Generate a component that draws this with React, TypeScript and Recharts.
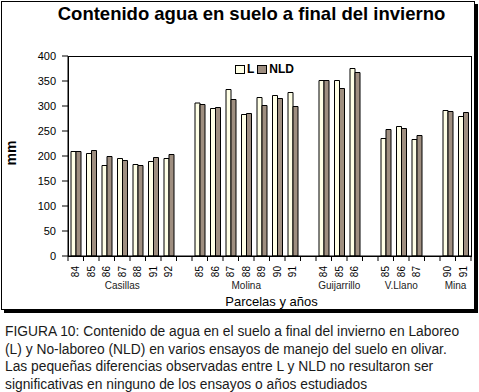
import React from 'react';
import { BarChart, Bar, XAxis, YAxis, Legend } from 'recharts';

const groups = ['Casillas', 'Molina', 'Guijarrillo', 'V.Llano', 'Mina'];
const years = [
  ['84', '85', '86', '87', '88', '91', '92'],
  ['85', '86', '87', '88', '89', '90', '91'],
  ['84', '85', '86'],
  ['85', '86', '87'],
  ['90', '91'],
];
// L = laboreo, NLD = no-laboreo (mm)
const laboreo = [
  [209, 205, 181, 195, 183, 189, 195],
  [306, 295, 333, 283, 317, 321, 327],
  [351, 351, 375],
  [235, 259, 233],
  [291, 279],
];
const noLaboreo = [
  [209, 211, 199, 191, 181, 197, 203],
  [303, 297, 313, 285, 301, 315, 299],
  [351, 335, 367],
  [253, 255, 241],
  [289, 287],
];
const yTicks = [0, 50, 100, 150, 200, 250, 300, 350, 400];
const caption = [
  'FIGURA 10: Contenido de agua en el suelo a final del invierno en Laboreo',
  '(L) y No-laboreo (NLD) en varios ensayos de manejo del suelo en olivar.',
  'Las pequeñas diferencias observadas entre L y NLD no resultaron ser',
  'significativas en ninguno de los ensayos o años estudiados',
];

type Row = { key: string; year: string; group: string; size: number; L: number | null; NLD: number | null };

const rows: Row[] = [];
groups.forEach((g, gi) => {
  if (gi > 0) rows.push({ key: 'gap' + gi, year: '', group: '', size: 0, L: null, NLD: null });
  years[gi].forEach((yr, yi) => {
    rows.push({
      key: gi + '-' + yr,
      year: yr,
      group: yi === 0 ? g : '',
      size: years[gi].length,
      L: laboreo[gi][yi],
      NLD: noLaboreo[gi][yi],
    });
  });
});

const FONT = '"Liberation Sans", Arial, sans-serif';
const PLOT_W = 403;
const SLOT = PLOT_W / rows.length;

const XTick = (props: any) => {
  const { x, y, payload } = props;
  const i = props.index ?? payload.index;
  const row = rows[i];
  const half = SLOT / 2;
  return (
    <g>
      <line x1={x - half} y1={y} x2={x - half} y2={y + 5} stroke="#000" />
      {i === rows.length - 1 && <line x1={x + half} y1={y} x2={x + half} y2={y + 5} stroke="#000" />}
      {row.year && (
        <text
          x={x + 3.5}
          y={y + 10}
          transform={`rotate(-90 ${x + 3.5} ${y + 10})`}
          textAnchor="end"
          fontSize={10}
          fill="#000"
          fontFamily={FONT}
        >
          {row.year}
        </text>
      )}
      {row.group && (
        <text x={x + (row.size - 1) * half} y={y + 33} textAnchor="middle" fontSize={10} fill="#222" fontFamily={FONT}>
          {row.group}
        </text>
      )}
    </g>
  );
};

const swatch = (color: string): React.CSSProperties => ({
  display: 'inline-block', flexShrink: 0, width: 10, height: 9, boxSizing: 'border-box',
  border: '1px solid #000', background: color, marginRight: 2,
});

const LegendBox = () => (
  <div style={{ display: 'flex', alignItems: 'center', fontFamily: FONT, fontWeight: 'bold', fontSize: 12, whiteSpace: 'nowrap' }}>
    <span style={swatch('#FFFFE6')} />
    <span style={{ marginRight: 3 }}>L</span>
    <span style={swatch('#9E8E80')} />
    <span>NLD</span>
  </div>
);

const App = () => {
  return (
    <div style={{ position: 'absolute', left: 0, top: 0, width: 479, height: 392, background: '#fff', fontFamily: FONT }}>
      <div
        style={{
          position: 'absolute', left: 1, top: 1, width: 472, height: 307,
          border: '1px solid #000', boxShadow: '3px 3px 0 #000',
        }}
      />
      <div style={{ position: 'absolute', left: 0, width: 503, top: 3, textAlign: 'center', fontSize: 18.5, fontWeight: 'bold', lineHeight: '22px' }}>
        Contenido agua en suelo a final del invierno
      </div>
      <div
        style={{
          position: 'absolute', left: 11, top: 153, fontSize: 14, fontWeight: 'bold',
          transform: 'translate(-50%, -50%) rotate(-90deg)', lineHeight: '14px',
        }}
      >
        mm
      </div>
      <div style={{ position: 'absolute', left: 0, width: 543, top: 294, textAlign: 'center', fontSize: 13, lineHeight: '16px' }}>
        Parcelas y años
      </div>
      <div style={{ position: 'absolute', left: 0, top: 0 }}>
        <BarChart width={479} height={320} data={rows} margin={{ top: 56, right: 8, bottom: 0, left: 8 }} barGap={0} barSize={5}>
          <XAxis
            dataKey="key"
            interval={0}
            height={64}
            tickLine={false}
            tickSize={0}
            tickMargin={0}
            axisLine={{ stroke: '#000' }}
            tick={XTick}
          />
          <YAxis
            domain={[0, 400]}
            ticks={yTicks}
            width={60}
            tickSize={6}
            tickMargin={6}
            axisLine={{ stroke: '#000' }}
            tickLine={{ stroke: '#000' }}
            tick={{ fill: '#000', fontSize: 11, fontFamily: FONT }}
          />
          <Legend
            layout="horizontal"
            verticalAlign="middle"
            content={<LegendBox />}
            wrapperStyle={{ position: 'absolute', left: 235, top: 62, width: 'auto' }}
          />
          <Bar dataKey="L" fill="#FFFFE6" stroke="#000" strokeWidth={1} isAnimationActive={false} />
          <Bar dataKey="NLD" fill="#9E8E80" stroke="#000" strokeWidth={1} isAnimationActive={false} />
        </BarChart>
      </div>
      <div
        style={{
          position: 'absolute', left: 68, top: 56, width: 404, height: 201, boxSizing: 'border-box',
          border: '1px solid #000', pointerEvents: 'none',
        }}
      />
      <div style={{ position: 'absolute', left: 5, top: 323, fontSize: 13.8, lineHeight: '17.5px', color: '#1a1a1a', whiteSpace: 'nowrap' }}>
        {caption.map((c) => (
          <div key={c}>{c}</div>
        ))}
      </div>
    </div>
  );
};

export default App;
